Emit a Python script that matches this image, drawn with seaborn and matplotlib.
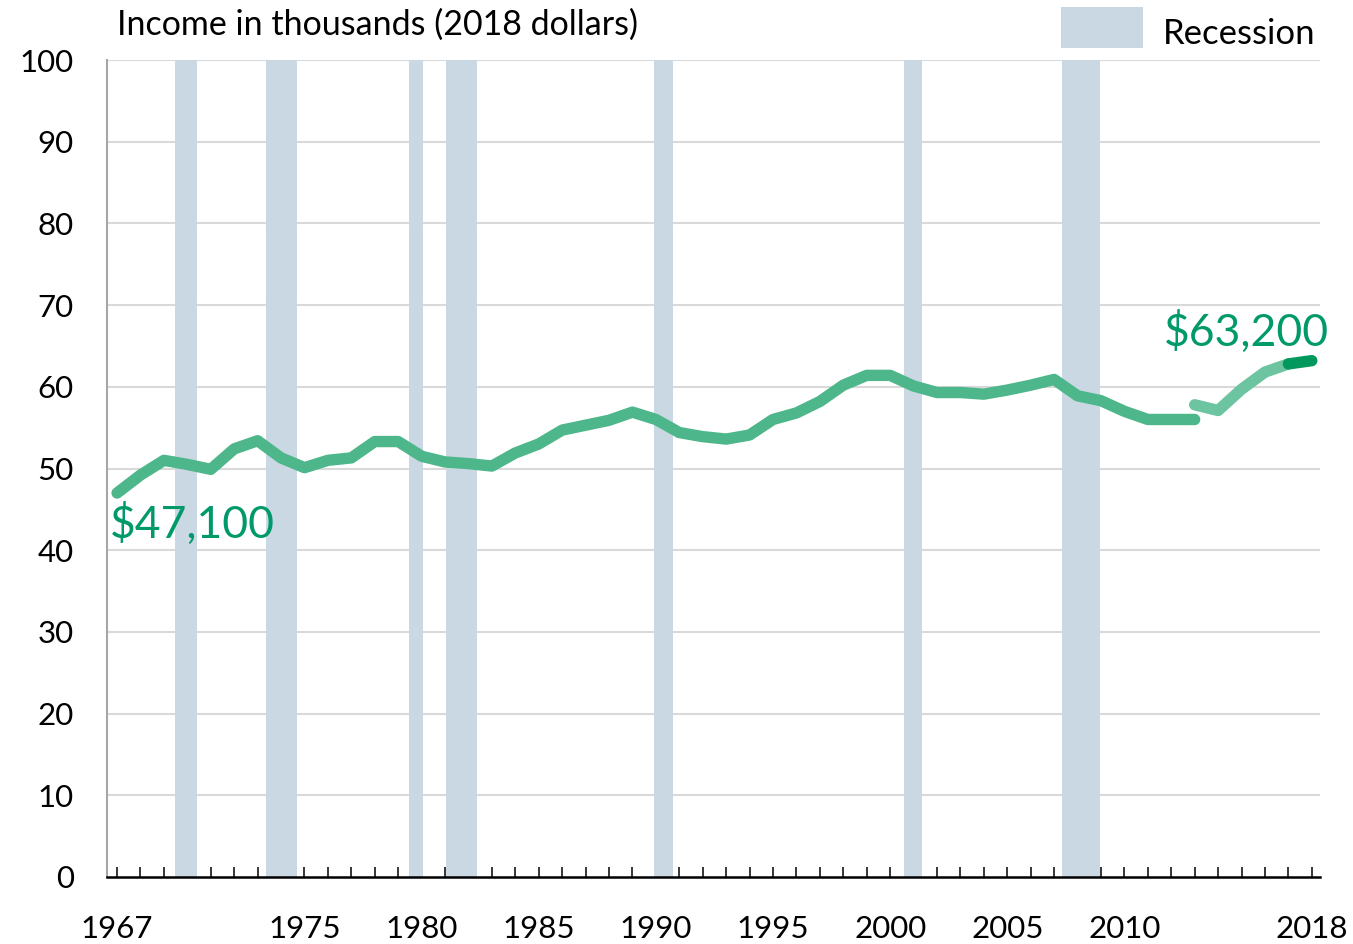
import matplotlib
matplotlib.use("Agg")
import matplotlib.pyplot as plt
from matplotlib.patches import Rectangle
import seaborn as sns
import pandas as pd

years_main = list(range(1967, 2014))
income_main = [47.0, 49.2, 51.0, 50.5, 49.9, 52.4, 53.4, 51.3, 50.1, 51.0, 51.3, 53.3,
               53.3, 51.5, 50.8, 50.6, 50.3, 51.9, 53.0, 54.7, 55.3, 55.9, 56.9, 56.0,
               54.4, 53.9, 53.6, 54.1, 56.0, 56.8, 58.2, 60.2, 61.4, 61.4, 60.1, 59.3,
               59.3, 59.1, 59.6, 60.2, 60.9, 58.9, 58.3, 57.0, 56.0, 56.0, 56.0]
years_new = [2013, 2014, 2015, 2016, 2017]
income_new = [57.8, 57.1, 59.7, 61.8, 62.8]
years_latest = [2017, 2018]
income_latest = [62.8, 63.2]

recessions = [(1969.48, 1970.41), (1973.37, 1974.70), (1979.48, 1980.06),
              (1981.02, 1982.37), (1989.92, 1990.73), (2000.60, 2001.37),
              (2007.33, 2008.96)]

major_years = [1967, 1975, 1980, 1985, 1990, 1995, 2000, 2005, 2010, 2018]
y_ticks = [0, 10, 20, 30, 40, 50, 60, 70, 80, 90, 100]

sns.set_theme(style="white")
plt.rcParams['font.family'] = ['Lato', 'DejaVu Sans']

fig = plt.figure(figsize=(13.53, 9.44), dpi=100)
ax = fig.add_axes([107/1353, 1-877/944, (1320-107)/1353, (877-60)/944])

rec_color = "#c9d8e2"
for s, e in recessions:
    ax.axvspan(s, e, color=rec_color, lw=0, zorder=1)

for v in y_ticks[1:]:
    ax.axhline(v, color="#d9d9d9", lw=1.5, zorder=0)

df_main = pd.DataFrame({"year": years_main, "income": income_main})
df_new = pd.DataFrame({"year": years_new, "income": income_new})
df_latest = pd.DataFrame({"year": years_latest, "income": income_latest})

kw = dict(lw=8.2, solid_capstyle="round", solid_joinstyle="round", zorder=3)
sns.lineplot(data=df_main, x="year", y="income", ax=ax, color="#4db68b", **kw)
sns.lineplot(data=df_new, x="year", y="income", ax=ax, color="#6cc4a1", **kw)
sns.lineplot(data=df_latest, x="year", y="income", ax=ax, color="#00985c", **kw)

ax.set_xlim(1966.57, 2018.35)
ax.set_ylim(0, 100)
ax.set_xlabel("")
ax.set_ylabel("")

ax.set_xticks(major_years)
ax.set_xticklabels([str(y) for y in major_years])
ax.set_xticks(list(range(1967, 2019)), minor=True)
ax.tick_params(axis="x", which="both", direction="in", length=7, width=1.1,
               color="black", bottom=True, pad=27, labelsize=22.5, labelcolor="black")
ax.set_yticks(y_ticks)
ax.tick_params(axis="y", length=0, pad=24, labelsize=22.5, labelcolor="black")

for sp in ["top", "right"]:
    ax.spines[sp].set_visible(False)
ax.spines["left"].set_color("#a6a6a6")
ax.spines["left"].set_linewidth(1.5)
ax.spines["bottom"].set_color("black")
ax.spines["bottom"].set_linewidth(1.8)

ax.text(1966.7, 43.2, "$47,100", color="#00996a", fontsize=32, ha="left", va="center")
ax.text(2018.75, 66.7, "$63,200", color="#00996a", fontsize=32, ha="right", va="center")

fig.text(117/1353, 1-25/944, "Income in thousands (2018 dollars)", fontsize=24.5,
         ha="left", va="center", color="black")
fig.patches.append(Rectangle((1061/1353, 1-48/944), 82/1353, 41/944,
                             transform=fig.transFigure, color=rec_color, lw=0))
fig.text(1163/1353, 1-34/944, "Recession", fontsize=25, ha="left", va="center",
         color="black")

fig.savefig("out.png", dpi=100)
